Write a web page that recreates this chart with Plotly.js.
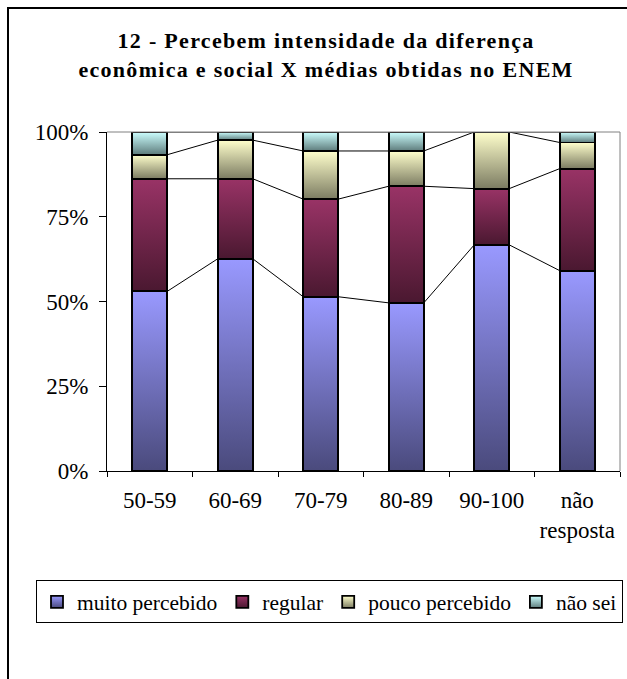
<!DOCTYPE html>
<html><head><meta charset="utf-8">
<script src="https://cdn.plot.ly/plotly-3.0.1.min.js"></script>
<style>
html,body{margin:0;padding:0;background:#fff;overflow:hidden;}
#wrap{position:relative;width:627px;height:679px;overflow:hidden;}
#chart{width:627px;height:679px;}
#frame{position:absolute;left:7px;top:7px;width:800px;height:900px;border:2px solid #000;pointer-events:none;}
.gtitle{letter-spacing:1.3px;}
</style></head>
<body><div id="wrap"><div id="chart"></div><div id="frame"></div></div>
<script>
const categories = ['50-59', '60-69', '70-79', '80-89', '90-100', 'não<br>resposta'];
const muitoPercebido = [53.0, 62.6, 51.4, 49.6, 66.7, 59.1];
const regular = [33.2, 23.6, 28.8, 34.4, 16.6, 30.1];
const poucoPercebido = [7.1, 11.4, 14.2, 10.4, 16.7, 7.7];
const naoSei = [6.7, 2.4, 5.6, 5.6, 0.0, 3.1];
const seriesNames = ['muito percebido', 'regular', 'pouco percebido', 'não sei'];
const yTickValues = [0, 25, 50, 75, 100];
const yTickLabels = ['0%', '25%', '50%', '75%', '100%'];

const seriesData = [muitoPercebido, regular, poucoPercebido, naoSei];
const topColors = ['#9999FF', '#993366', '#FFFFCC', '#CCFFFF'];
const bottomColors = ['#4A4A7C', '#4A1830', '#7C7C62', '#5E7C7C'];
const midColors = ['#7373BD', '#70254B', '#BDBD97', '#95BDBD'];
const FONT = 'Times New Roman';
const BARW = 0.41;

const xIdx = categories.map((_, i) => i);
const traces = seriesData.map((vals, s) => ({
  type: 'bar', name: seriesNames[s], x: xIdx, y: vals, width: BARW,
  marker: {color: midColors[s], line: {color: '#000', width: 1.8}},
  hoverinfo: 'skip'
}));

const cum = [];
let run = xIdx.map(() => 0);
seriesData.forEach(vals => { run = run.map((r, i) => r + vals[i]); cum.push(run.slice()); });
cum.forEach(level => {
  const lx = [], ly = [];
  for (let i = 0; i < xIdx.length - 1; i++) {
    lx.push(xIdx[i] + BARW / 2, xIdx[i + 1] - BARW / 2, null);
    ly.push(level[i], level[i + 1], null);
  }
  traces.push({type: 'scatter', mode: 'lines', x: lx, y: ly, showlegend: false,
    line: {color: '#000', width: 1}, cliponaxis: false, hoverinfo: 'skip'});
});

const boundaries = [-0.5].concat(xIdx.map(i => i + 0.5));

const layout = {
  width: 627, height: 679,
  paper_bgcolor: '#fff', plot_bgcolor: '#fff',
  margin: {l: 107, r: 7, t: 132, b: 208},
  barmode: 'stack',
  showlegend: true,
  font: {family: FONT, size: 23, color: '#000'},
  title: {
    text: '12 - Percebem intensidade da diferença<br>econômica e social X médias obtidas no ENEM',
    font: {family: FONT, size: 22, color: '#000', weight: 'bold'},
    x: 0.52, xanchor: 'center', xref: 'container',
    y: 1 - 48 / 679, yanchor: 'middle', yref: 'container'
  },
  xaxis: {
    type: 'linear', range: [-0.5, 5.5], fixedrange: true,
    tickmode: 'array', tickvals: xIdx, ticktext: categories,
    ticks: '', showgrid: false, zeroline: false,
    showline: true, linecolor: '#000', linewidth: 1,
    ticklabelstandoff: 8,
    tickfont: {family: FONT, size: 23, color: '#000'},
    minor: {tickmode: 'array', tickvals: boundaries, ticks: 'outside', ticklen: 5, tickcolor: '#000', tickwidth: 1, showgrid: false}
  },
  yaxis: {
    range: [0, 100], fixedrange: true,
    tickmode: 'array', tickvals: yTickValues, ticktext: yTickLabels,
    ticks: 'outside', ticklen: 7, tickcolor: '#000', tickwidth: 1,
    ticklabelstandoff: 6,
    showgrid: false, zeroline: false,
    showline: true, linecolor: '#000', linewidth: 1,
    tickfont: {family: FONT, size: 23, color: '#000'}
  },
  legend: {
    orientation: 'h', x: -0.1384, xanchor: 'left', y: -0.3230, yanchor: 'top',
    bordercolor: '#000', borderwidth: 1, bgcolor: '#fff',
    font: {family: FONT, size: 21.5, color: '#000'},
    itemwidth: 30, tracegroupgap: 0, traceorder: 'normal'
  },
  shapes: [
    {type: 'line', xref: 'paper', yref: 'paper', x0: 0, x1: 1, y0: 1, y1: 1, line: {color: '#808080', width: 1}},
    {type: 'line', xref: 'paper', yref: 'paper', x0: 1, x1: 1, y0: 0, y1: 1, line: {color: '#808080', width: 1}}
  ]
};

function applyGradients(gd) {
  const svg = gd.querySelector('.main-svg');
  let defs = svg.querySelector('defs');
  const NS = 'http://www.w3.org/2000/svg';
  if (!defs) { defs = document.createElementNS(NS, 'defs'); svg.insertBefore(defs, svg.firstChild); }
  topColors.forEach((c, s) => {
    const g = document.createElementNS(NS, 'linearGradient');
    g.setAttribute('id', 'barGrad' + s);
    g.setAttribute('x1', '0'); g.setAttribute('y1', '0'); g.setAttribute('x2', '0'); g.setAttribute('y2', '1');
    const s1 = document.createElementNS(NS, 'stop'); s1.setAttribute('offset', '0'); s1.setAttribute('stop-color', c);
    const s2 = document.createElementNS(NS, 'stop'); s2.setAttribute('offset', '1'); s2.setAttribute('stop-color', bottomColors[s]);
    g.appendChild(s1); g.appendChild(s2); defs.appendChild(g);
  });
  gd.querySelectorAll('.barlayer .trace.bars').forEach((t, s) => {
    t.querySelectorAll('.point path').forEach(p => { p.style.fill = 'url(#barGrad' + s + ')'; });
  });
  gd.querySelectorAll('.legend .traces').forEach((t, s) => {
    if (s < topColors.length) t.querySelectorAll('.legendpoints path').forEach(p => { p.style.fill = 'url(#barGrad' + s + ')'; });
  });
}

Plotly.newPlot('chart', traces, layout, {displayModeBar: false, staticPlot: true}).then(applyGradients);
</script>
</body></html>
